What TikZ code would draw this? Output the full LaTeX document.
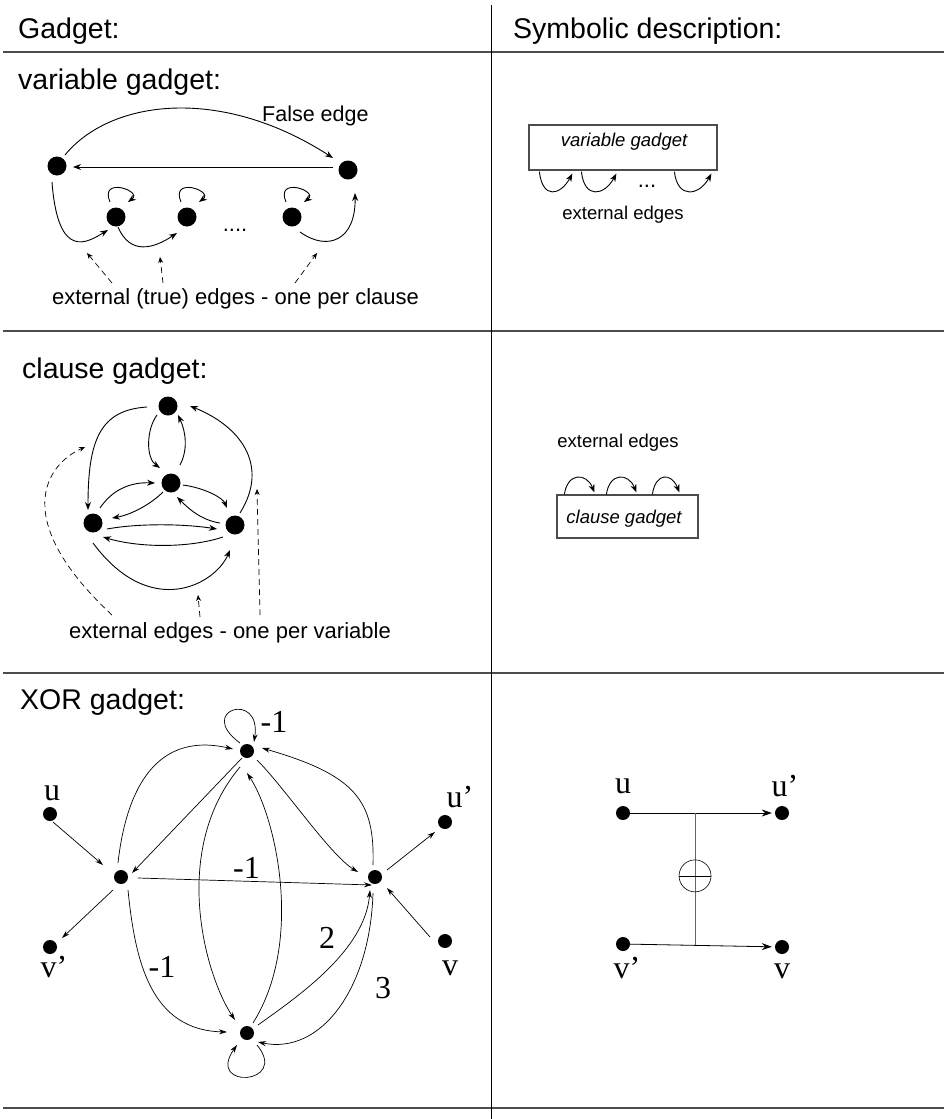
\documentclass[tikz,border=0pt]{standalone}
\usepackage{fontspec}
\setmainfont{Liberation Sans}
\newfontfamily\serifnum{Liberation Serif}
\usetikzlibrary{arrows.meta,calc}
\begin{document}
\begin{tikzpicture}[x=1pt,y=-1pt,
    dot/.style={circle,fill,inner sep=0pt,minimum size=19pt},
    sdot/.style={circle,fill,inner sep=0pt,minimum size=14pt},
    arr/.style={-{Stealth[length=8pt,width=6pt]},line width=0.9pt},
    sarr/.style={-{Stealth[length=8pt,width=5pt]},line width=0.7pt},
    ext/.style={-{Stealth[length=6pt,width=5pt]},line width=0.7pt,dash pattern=on 6pt off 4pt},
    rule/.style={line width=1.4pt,black!70},
    box/.style={draw=black!70,line width=1.2pt,inner sep=0pt},
    head/.style={font=\fontsize{28.5}{31}\selectfont,anchor=base west,inner sep=0pt},
    note/.style={font=\fontsize{22}{24}\selectfont,anchor=base,inner sep=0pt},
    small/.style={font=\fontsize{18.5}{21}\selectfont,anchor=base,inner sep=0pt},
    lab/.style={font=\serifnum\fontsize{32}{34}\selectfont,anchor=base,inner sep=0pt}]
  \useasboundingbox (0,0) rectangle (944,1119);
  \foreach \y in {52,331,673,1108}
    \draw[rule] (3,\y) -- (944,\y);
  \draw[line width=0.8pt] (491,5) -- (491,1119);
  \node[head] (hgad) at (18,38) {Gadget:};
  \node[head] (hsym) at (513,38) {Symbolic description:};
  \node[head] (hvar) at (18,89) {variable gadget:};
  \node[head] (hcla) at (22,378) {clause gadget:};
  \node[head] (hxor) at (20,709) {XOR gadget:};

  % variable gadget
  \node[dot] (vL) at (57,166) {};
  \node[dot] (vR) at (348,170) {};
  \node[dot] (vA) at (116,217) {};
  \node[dot] (vB) at (187,217) {};
  \node[dot] (vC) at (292,217) {};
  \node[note] (vdots) at (235,231) {....};
  \node[note,anchor=base west,font=\fontsize{21.5}{24}\selectfont] (vfalse) at (262,121) {False edge};
  \draw[arr] ($(vL)+(8,-11)$) .. controls (110,100) and (220,85) .. ($(vR)+(-15,-12)$);
  \draw[arr] ($(vR)+(-15,-3)$) -- ($(vL)+(16,1)$);
  \foreach \n in {vA,vB,vC}
    \draw[arr] ($(\n)+(-6,-15)$) .. controls +(-11,-26) and +(15,-11) .. ($(\n)+(12,-15)$);
  \draw[arr] ($(vL)+(-5,16)$) .. controls (58,262) and (88,242) .. ($(vA)+(-8,13)$);
  \draw[arr] ($(vA)+(2,10)$) .. controls (130,255) and (153,249) .. ($(vB)+(-10,16)$);
  \draw[arr] ($(vC)+(8,15)$) .. controls (328,252) and (356,240) .. ($(vR)+(7,23)$);
  \node[note] (vext) at (235.5,304) {external (true) edges - one per clause};
  \coordinate (vt1) at (87,253);
  \coordinate (vt2) at (160,257);
  \coordinate (vt3) at (317,253);
  \draw[ext] ($(vext.base)+(-123.5,-21)$) -- (vt1);
  \draw[ext] ($(vext.base)+(-72.5,-21)$) -- (vt2);
  \draw[ext] ($(vext.base)+(59.5,-21)$) -- (vt3);

  \node[box,minimum width=188pt,minimum height=45pt] (vbox) at (623,147.5) {};
  \node[small,font=\itshape\fontsize{18.5}{21}\selectfont] (vboxt) at (624,146) {variable gadget};
  \foreach \s/\e in {11/44,53/88,146/183}
    \draw[arr] ($(vbox.south west)+(\s,1)$) .. controls +(3,28) and +(-12,22) .. ($(vbox.south west)+(\e,3)$);
  \node[note] (vbdots) at (647,187) {...};
  \node[small] (vbext) at (623,219) {external edges};

  % clause gadget
  \node[dot] (T) at (168,406) {};
  \node[dot] (M) at (171,483) {};
  \node[dot] (L) at (93,523) {};
  \node[dot] (R) at (235,525) {};
  \draw[arr] ($(T)+(-21,1)$) .. controls (100,410) and (88,440) .. ($(L)+(-5,-13)$);
  \draw[arr] ($(T)+(-11,9)$) .. controls (146,430) and (146,458) .. ($(M)+(-11,-15)$);
  \draw[arr] ($(M)+(9,-18)$) .. controls (188,450) and (186,432) .. ($(T)+(10,9)$);
  \draw[arr] ($(L)+(7,-15)$) .. controls (112,490) and (130,482) .. ($(M)+(-16,0)$);
  \draw[arr] ($(M)+(-8,9)$) .. controls (150,505) and (130,515) .. ($(L)+(19,-5)$);
  \draw[arr] ($(M)+(12,2)$) .. controls (205,488) and (223,498) .. ($(R)+(-8,-17)$);
  \draw[arr] ($(R)+(-15,-2)$) .. controls (200,520) and (187,507) .. ($(M)+(6,14)$);
  \draw[arr] ($(L)+(14,6)$) .. controls (140,523) and (185,524) .. ($(R)+(-18,4)$);
  \draw[arr] ($(R)+(-12,12)$) .. controls (190,548) and (140,548) .. ($(L)+(10,14)$);
  \draw[arr] ($(R)+(5,-12)$) .. controls (270,465) and (240,426) .. ($(T)+(22,0)$);
  \draw[arr] ($(L)+(0,20)$) .. controls (150,620) and (215,585) .. ($(R)+(-5,25)$);
  \node[note] (cext) at (230,638) {external edges - one per variable};
  \coordinate (ct1) at (85,447);
  \coordinate (ct2) at (198,595);
  \coordinate (ct3) at (257,489);
  \draw[ext] ($(cext.base)+(-118,-23)$) .. controls (10,520) and (45,465) .. (ct1);
  \draw[ext] ($(cext.base)+(-30,-21)$) -- (ct2);
  \draw[ext] ($(cext.base)+(30,-23)$) -- (ct3);

  \node[small] (cbext) at (618,447) {external edges};
  \node[box,minimum width=141pt,minimum height=43pt] (cbox) at (627.5,516.5) {};
  \node[small,font=\itshape\fontsize{18.5}{21}\selectfont] (cboxt) at (624,523) {clause gadget};
  \foreach \s/\e in {8/38,50/80,96/123}
    \draw[arr] ($(cbox.north west)+(\s,0)$) .. controls +(3,-22) and +(-8,-20) .. ($(cbox.north west)+(\e,-2)$);

  % XOR gadget
  \node[sdot] (A) at (247,751) {};
  \node[sdot] (B) at (121,877) {};
  \node[sdot] (C) at (375,877) {};
  \node[sdot] (D) at (247,1033) {};
  \node[sdot] (xu) at (50,814) {};
  \node[sdot] (xvp) at (50,947) {};
  \node[sdot] (xup) at (445,822) {};
  \node[sdot] (xv) at (445,941) {};
  \node[lab] (xul) at ($(xu)+(2,-14)$) {u};
  \node[lab] (xvpl) at ($(xvp)+(4,30)$) {v’};
  \node[lab] (xupl) at ($(xup)+(15,-15)$) {u’};
  \node[lab] (xvl) at ($(xv)+(5,34)$) {v};
  \draw[sarr] ($(xu)+(3,8)$) -- ($(B)+(-18,-12)$);
  \draw[sarr] ($(B)+(-8,13)$) -- ($(xvp)+(12,-9)$);
  \draw[sarr] ($(C)+(12,-7)$) -- ($(xup)+(-10,10)$);
  \draw[sarr] ($(xv)+(-15,-4)$) -- ($(C)+(12,11)$);
  \draw[sarr] ($(B)+(17,1)$) -- ($(C)+(-3,8)$);
  \draw[sarr] ($(B)+(-3,-14)$) .. controls (125,800) and (150,730) .. ($(A)+(-14,-2)$);
  \draw[sarr] ($(A)+(-5,7)$) -- ($(B)+(11,-4)$);
  \draw[sarr] ($(A)+(10,9)$) .. controls (285,788) and (330,855) .. ($(C)+(-17,-5)$);
  \draw[sarr] ($(C)+(-2,-12)$) .. controls (375,800) and (355,775) .. ($(A)+(15,-3)$);
  \draw[sarr] ($(A)+(-7,16)$) .. controls (170,850) and (205,975) .. ($(D)+(-12,-13)$);
  \draw[sarr] ($(D)+(6,-10)$) .. controls (305,940) and (275,815) .. ($(A)+(0,22)$);
  \draw[sarr] ($(B)+(7,13)$) .. controls (135,960) and (150,1030) .. ($(D)+(-20,-1)$);
  \draw[sarr] ($(D)+(11,-8)$) .. controls (300,995) and (365,950) .. ($(C)+(-5,13)$);
  \draw[sarr] ($(C)+(-2,16)$) .. controls (370,990) and (320,1055) .. ($(D)+(11,9)$);
  \draw[sarr] ($(A)+(-7,-8)$) .. controls (195,710) and (262,690) .. ($(A)+(7,-9)$);
  \draw[sarr] ($(D)+(10,12)$) .. controls (290,1085) and (205,1090) .. ($(D)+(-10,12)$);
  \node[lab] (waa) at ($(A)+(27,-19)$) {-1};
  \node[lab] (wbc) at ($(B)!0.49!(C)+(1,1)$) {-1};
  \node[lab] (wbd) at ($(B)+(41,100)$) {-1};
  \node[lab] (wdc) at ($(C)+(-48,71)$) {2};
  \node[lab] (wcd) at ($(C)+(8,121)$) {3};

  \node[sdot] (su) at (623,813) {};
  \node[sdot] (sup) at (782,813) {};
  \node[sdot] (svp) at (623,944) {};
  \node[sdot] (sv) at (782,947) {};
  \node[lab] (sul) at ($(su)+(0,-20)$) {u};
  \node[lab] (supl) at ($(sup)+(3,-17)$) {u’};
  \node[lab] (svpl) at ($(svp)+(4,34)$) {v’};
  \node[lab] (svl) at ($(sv)+(0,31)$) {v};
  \draw[-{Stealth[length=10pt,width=7pt]},line width=0.8pt,shorten >=3pt] (su) -- (sup);
  \draw[-{Stealth[length=10pt,width=7pt]},line width=0.8pt,shorten >=3pt] (svp) -- (sv);
  \coordinate (xtop) at ($(su)!0.453!(sup)$);
  \coordinate (xbot) at ($(svp)!0.453!(sv)$);
  \draw[line width=0.8pt,black!60] (xtop) -- (xbot);
  \node[circle,draw,line width=0.6pt,inner sep=0pt,minimum size=32pt] (xo) at ($(xtop)!0.475!(xbot)$) {};
  \draw[line width=0.6pt] (xo.west) -- (xo.east);
\end{tikzpicture}
\end{document}
